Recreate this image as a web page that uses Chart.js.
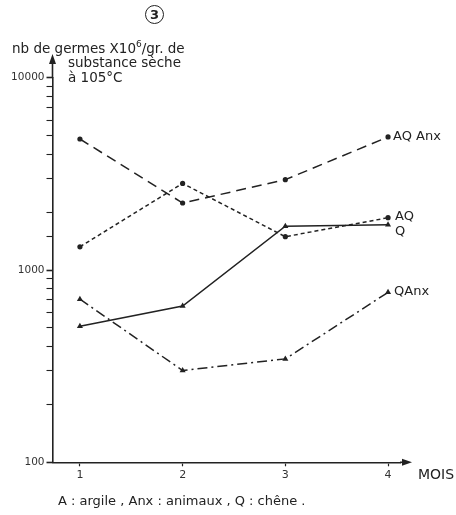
<!DOCTYPE html>
<html>
<head>
<meta charset="utf-8">
<script src="https://cdn.jsdelivr.net/npm/chart.js@4/dist/chart.umd.min.js"></script>
<style>
  html, body { margin: 0; padding: 0; background: #fff; }
  #wrap { position: relative; width: 456px; height: 515px; font-family: "DejaVu Sans", "Liberation Sans", sans-serif; color: #222; }
  canvas { position: absolute; left: 0; top: 0; }
  .t { position: absolute; white-space: nowrap; font-size: 13.5px; line-height: 1; }
  #num { position: absolute; left: 145px; top: 5px; width: 17px; height: 17px; border: 1.7px solid #222; border-radius: 50%; font-size: 13px; font-weight: bold; text-align: center; line-height: 17px; }
</style>
</head>
<body>
<div id="wrap">
  <canvas id="c" width="456" height="515"></canvas>
  <div id="num">3</div>
  <div class="t" style="left:12px; top:40px;">nb de germes X10<sup style="font-size:9px">6</sup>/gr. de</div>
  <div class="t" style="left:68px; top:56px;">substance sèche</div>
  <div class="t" style="left:68px; top:71px;">à 105°C</div>
  <div class="t" style="left:418px; top:467px; font-size:14px;">MOIS</div>
  <div class="t" style="left:58px; top:494px; font-size:13px;">A : argile , Anx : animaux , Q : chêne .</div>
</div>
<script>
const months = [1, 2, 3, 4];
const xTickLabels = ['1', '2', '3', '4'];
const yTickLabels = [100, 1000, 10000];
const seriesNames = ['AQ Anx', 'AQ', 'Q', 'QAnx'];
const aqAnx = [4800, 2230, 2950, 4920];
const aq = [1320, 2820, 1490, 1870];
const q = [510, 650, 1690, 1720];
const qAnx = [705, 300, 345, 765];

const INK = '#222';
const FONT = '"DejaVu Sans", "Liberation Sans", sans-serif';

function pts(vals) { return months.map((m, i) => ({ x: m, y: vals[i] })); }

const labelOffsets = { 'AQ Anx': [5, 0], 'AQ': [7, -1], 'Q': [7, 7], 'QAnx': [6, -1] };

const endLabels = {
  id: 'endLabels',
  afterDatasetsDraw(chart) {
    const ctx = chart.ctx;
    const xs = chart.scales.x, ys = chart.scales.y;
    ctx.save();
    ctx.fillStyle = INK;
    ctx.font = '13px ' + FONT;
    ctx.textBaseline = 'middle';
    chart.data.datasets.forEach(ds => {
      const last = ds.data[ds.data.length - 1];
      const off = labelOffsets[ds.label];
      ctx.fillText(ds.label, xs.getPixelForValue(last.x) + off[0], ys.getPixelForValue(last.y) + off[1]);
    });
    ctx.restore();
  }
};

const arrows = {
  id: 'arrows',
  afterDraw(chart) {
    const ctx = chart.ctx;
    const a = chart.chartArea;
    ctx.save();
    ctx.strokeStyle = INK; ctx.fillStyle = INK; ctx.lineWidth = 1.6;
    ctx.beginPath(); ctx.moveTo(a.left, a.top); ctx.lineTo(a.left, 60); ctx.stroke();
    ctx.beginPath(); ctx.moveTo(a.left, 54); ctx.lineTo(a.left - 3.5, 64); ctx.lineTo(a.left + 3.5, 64); ctx.closePath(); ctx.fill();
    ctx.beginPath(); ctx.moveTo(a.right, a.bottom); ctx.lineTo(405, a.bottom); ctx.stroke();
    ctx.beginPath(); ctx.moveTo(412, a.bottom); ctx.lineTo(402, a.bottom - 3.5); ctx.lineTo(402, a.bottom + 3.5); ctx.closePath(); ctx.fill();
    ctx.restore();
  }
};

const common = { borderColor: INK, backgroundColor: INK, borderWidth: 1.5, fill: false, tension: 0, pointBorderWidth: 0 };

new Chart(document.getElementById('c'), {
  type: 'line',
  data: {
    datasets: [
      Object.assign({}, common, { label: seriesNames[0], data: pts(aqAnx), borderDash: [10, 6], pointStyle: 'circle', pointRadius: 2.6 }),
      Object.assign({}, common, { label: seriesNames[1], data: pts(aq), borderDash: [4, 3], pointStyle: 'circle', pointRadius: 2.6 }),
      Object.assign({}, common, { label: seriesNames[2], data: pts(q), pointStyle: 'triangle', pointRadius: 3.5 }),
      Object.assign({}, common, { label: seriesNames[3], data: pts(qAnx), borderDash: [10, 4, 2, 4], pointStyle: 'triangle', pointRadius: 3.5 })
    ]
  },
  options: {
    responsive: false,
    animation: false,
    layout: { padding: { top: 77.7, right: 56, left: 0, bottom: 0 } },
    plugins: { legend: { display: false }, tooltip: { enabled: false }, title: { display: false } },
    scales: {
      x: {
        type: 'linear',
        min: 0.733,
        max: 4.0 + 12 / 103,
        afterFit(s) { s.height = 52.7; },
        afterBuildTicks(s) { s.ticks = months.map(v => ({ value: v })); },
        border: { display: true, color: INK, width: 1.6 },
        grid: { drawOnChartArea: false, tickLength: 4, tickColor: INK, tickWidth: 1.2 },
        ticks: {
          autoSkip: false, padding: 2, color: '#333',
          font: { family: FONT, size: 11 },
          callback: (v) => xTickLabels[months.indexOf(v)] ?? ''
        }
      },
      y: {
        type: 'logarithmic',
        min: 100,
        max: 10000,
        afterFit(s) { s.width = 52.5; },
        border: { display: true, color: INK, width: 1.6 },
        grid: {
          drawOnChartArea: false, tickLength: 6, tickColor: INK,
          tickWidth: (c) => (c.tick && yTickLabels.includes(c.tick.value)) ? 1.6 : 1.1
        },
        ticks: {
          autoSkip: false, padding: 2, color: '#333',
          font: { family: FONT, size: 10.5 },
          callback: (v) => yTickLabels.includes(v) ? String(v) : ''
        }
      }
    }
  },
  plugins: [endLabels, arrows]
});
</script>
</body>
</html>
